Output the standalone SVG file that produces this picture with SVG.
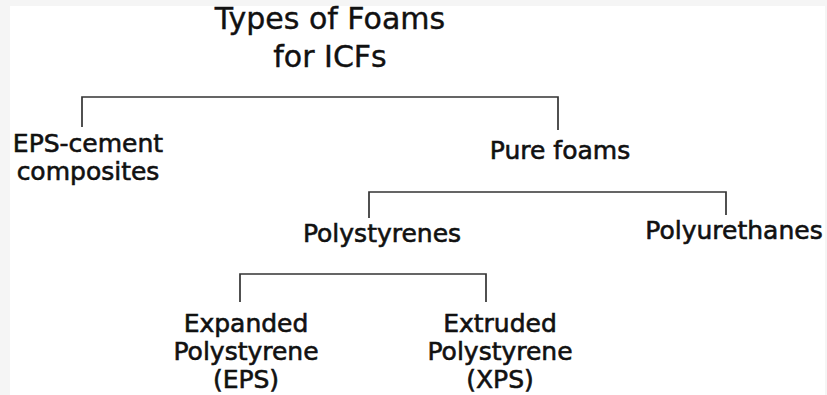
<svg xmlns="http://www.w3.org/2000/svg" width="827" height="395" viewBox="0 0 827 395">
<style>
.t{font-family:"DejaVu Sans","Liberation Sans",sans-serif;font-size:25px;fill:#111;stroke:#111;stroke-width:0.6;text-anchor:middle}
.title{font-size:30px;stroke-width:0.4}
.c{fill:none;stroke:#333;stroke-width:1.7}
</style>
<rect x="0" y="0" width="827" height="395" fill="#f5f5f5"/>
<rect x="10" y="6" width="815" height="389" fill="#ffffff"/>
<g id="connectors">
<path class="c" d="M82 127 V97 H558 V130"/>
<path class="c" d="M369 218 V192 H726 V215"/>
<path class="c" d="M240 302 V274 H486 V302"/>
</g>
<g id="title"><text class="t title" x="330" y="29">Types of Foams</text><text class="t title" x="330" y="67">for ICFs</text></g>
<g id="eps-cement"><text class="t" x="88" y="152">EPS-cement</text><text class="t" x="88" y="180">composites</text></g>
<g id="pure-foams"><text class="t" x="560" y="159">Pure foams</text></g>
<g id="polystyrenes"><text class="t" x="382" y="242">Polystyrenes</text></g>
<g id="polyurethanes"><text class="t" x="734" y="239">Polyurethanes</text></g>
<g id="eps"><text class="t" x="246" y="332">Expanded</text><text class="t" x="246" y="360">Polystyrene</text><text class="t" x="246" y="388">(EPS)</text></g>
<g id="xps"><text class="t" x="500" y="332">Extruded</text><text class="t" x="500" y="360">Polystyrene</text><text class="t" x="500" y="388">(XPS)</text></g>
</svg>
